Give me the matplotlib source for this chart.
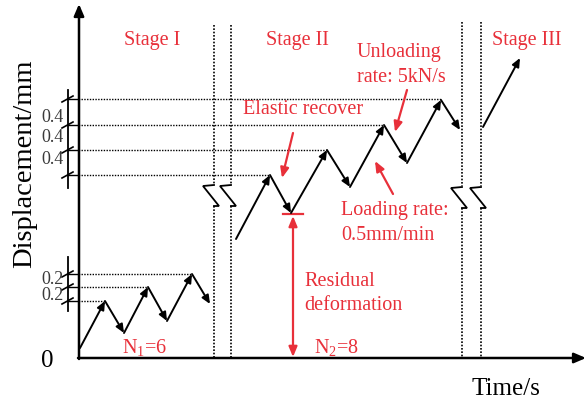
import matplotlib
matplotlib.use("Agg")
import matplotlib.pyplot as plt

plt.rcParams['mathtext.fontset'] = 'custom'
plt.rcParams['mathtext.rm'] = 'Liberation Serif'
plt.rcParams['mathtext.it'] = 'Liberation Serif:italic'

RED = '#e8303a'
SERIF = ['Liberation Serif', 'DejaVu Serif']

# ---- schematic data (pixel-space of the 587x405 canvas, y downward) ----
axis_x0, axis_y0 = 79, 358          # origin
x_end, y_end = 586, 4               # arrow tips

# Stage I cyclic path
s1_x = [80, 105, 124, 148, 167, 192, 210]
s1_y = [348, 301, 333, 287, 321, 274, 304]
# Stage II cyclic path
s2_x = [236, 270, 291, 327, 350, 384, 407, 441, 460]
s2_y = [239, 175, 213, 150, 187, 125, 163, 100, 130]
# Stage III
s3_x = [483, 520]
s3_y = [127, 58]

# guide levels (peaks) and their right ends
g1_y = [274, 287, 301]
g1_xe = [192, 148, 105]
g2_y = [99, 125, 150, 175]
g2_xe = [441, 384, 327, 270]

# dimension labels
dim1_labels = ['0.2', '0.2']
dim1_ly = [280, 296]
dim2_labels = ['0.4', '0.4', '0.4']
dim2_ly = [117, 137, 159]

# stage separators
sep_x = [214, 231, 462, 481]
sep_top = [25, 25, 22, 22]
sep_brk = [185, 185, 187, 187]

fig = plt.figure(figsize=(5.87, 4.05), dpi=100)
ax = fig.add_axes([0, 0, 1, 1])
ax.set_xlim(0, 587)
ax.set_ylim(405, 0)
ax.axis('off')

# axes arrows
ax.annotate('', xy=(axis_x0, y_end), xytext=(axis_x0, axis_y0 + 1),
            arrowprops=dict(arrowstyle='-|>,head_length=0.7,head_width=0.3',
                            lw=1.8, color='black', shrinkA=0, shrinkB=0))
ax.annotate('', xy=(x_end, axis_y0), xytext=(axis_x0 - 1, axis_y0),
            arrowprops=dict(arrowstyle='-|>,head_length=0.7,head_width=0.3',
                            lw=1.8, color='black', shrinkA=0, shrinkB=0))

# guide dotted lines
for y, xe in zip(g1_y, g1_xe):
    ax.plot([axis_x0 + 2, xe], [y, y], ls=(0, (1, 1)), lw=1.0, color='black')
for y, xe in zip(g2_y, g2_xe):
    ax.plot([axis_x0 + 2, xe], [y, y], ls=(0, (1, 1)), lw=1.0, color='black')

# stage separators with break symbols
for x, top, b in zip(sep_x, sep_top, sep_brk):
    ax.plot([x, x], [top, b - 1], ls=(0, (1, 1)), lw=1.2, color='black')
    ax.plot([x, x], [b + 21, axis_y0], ls=(0, (1, 1)), lw=1.2, color='black')
    ax.plot([x, x - 11, x + 5, x], [b, b + 1, b + 21, b + 21],
            lw=1.3, color='black', solid_joinstyle='miter')


def zigzag(xs, ys):
    for i in range(len(xs) - 1):
        ax.annotate('', xy=(xs[i + 1], ys[i + 1]), xytext=(xs[i], ys[i]),
                    arrowprops=dict(arrowstyle='-|>,head_length=0.5,head_width=0.22',
                                    lw=1.4, color='black',
                                    shrinkA=0, shrinkB=0))


zigzag(s1_x, s1_y)
zigzag(s2_x, s2_y)
ax.annotate('', xy=(s3_x[1], s3_y[1]), xytext=(s3_x[0], s3_y[0]),
            arrowprops=dict(arrowstyle='-|>,head_length=0.5,head_width=0.22',
                            lw=1.4, color='black', shrinkA=0, shrinkB=0))

# dimension lines
dim_x = 68


def dimension(levels, top, bottom, labels, ly):
    ax.plot([dim_x, dim_x], [top, bottom], lw=1.3, color='black')
    for y in levels:
        ax.plot([dim_x - 6, dim_x + 5], [y + 3, y - 3], lw=1.2, color='black')
        ax.plot([dim_x, axis_x0], [y, y], lw=1.0, color='black')
    for t, y in zip(labels, ly):
        ax.text(dim_x - 4, y, t, ha='right', va='center', fontsize=13,
                family=SERIF, color='#3a3a3a')


dimension(g2_y, 90, 188, dim2_labels, dim2_ly)
dimension(g1_y, 257, 311, dim1_labels, dim1_ly)

# axis texts
ax.text(47, 361, '0', ha='center', va='center', fontsize=18, family=SERIF)
ax.text(506, 389, 'Time/s', ha='center', va='center', fontsize=18, family=SERIF)
ax.text(25, 164, 'Displacement/mm', ha='center', va='center', rotation=90,
        fontsize=20.5, family=SERIF)

# red annotations
fs = 14.5
ax.text(152, 40, 'Stage I', ha='center', va='center', fontsize=fs, family=SERIF, color=RED)
ax.text(297, 40, 'Stage II', ha='center', va='center', fontsize=fs, family=SERIF, color=RED)
ax.text(527, 40, 'Stage III', ha='center', va='center', fontsize=fs, family=SERIF, color=RED)
ax.text(357, 52, 'Unloading', ha='left', va='center', fontsize=fs, family=SERIF, color=RED)
ax.text(357, 77, 'rate: 5kN/s', ha='left', va='center', fontsize=fs, family=SERIF, color=RED)
ax.text(243, 109, 'Elastic recover', ha='left', va='center', fontsize=fs, family=SERIF, color=RED)
ax.text(341, 211, 'Loading rate:', ha='left', va='center', fontsize=fs, family=SERIF, color=RED)
ax.text(341, 235, '0.5mm/min', ha='left', va='center', fontsize=fs, family=SERIF, color=RED)
ax.text(304, 281, 'Residual', ha='left', va='center', fontsize=fs, family=SERIF, color=RED)
ax.text(304, 306, 'deformation', ha='left', va='center', fontsize=fs, family=SERIF, color=RED)
ax.text(122, 347, r'N$_\mathrm{1}$=6', ha='left', va='center', fontsize=fs, family=SERIF, color=RED)
ax.text(314, 347, r'N$_\mathrm{2}$=8', ha='left', va='center', fontsize=fs, family=SERIF, color=RED)

red_arrow = dict(arrowstyle='-|>,head_length=0.6,head_width=0.25', lw=1.6,
                 color=RED, shrinkA=0, shrinkB=0)
ax.annotate('', xy=(395, 132), xytext=(407, 90), arrowprops=red_arrow)
ax.annotate('', xy=(282, 178), xytext=(293, 133), arrowprops=red_arrow)
ax.annotate('', xy=(375, 161), xytext=(393, 194), arrowprops=red_arrow)

# residual deformation marker
ax.plot([283, 303], [214, 214], lw=1.6, color=RED)
ax.annotate('', xy=(293, 216), xytext=(293, 357),
            arrowprops=dict(arrowstyle='<|-|>,head_length=0.6,head_width=0.25',
                            lw=1.6, color=RED, shrinkA=0, shrinkB=0))

fig.savefig('out.png', dpi=100)
